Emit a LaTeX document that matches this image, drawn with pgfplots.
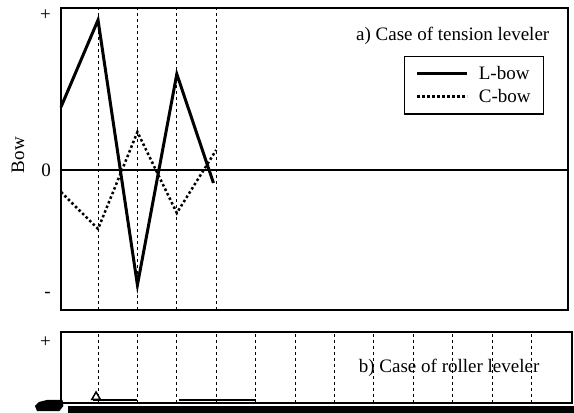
\documentclass[border=0pt]{standalone}
\usepackage{pgfplots}
\pgfplotsset{compat=1.18}
\usepackage{fontspec}
\setmainfont{Liberation Serif}
\begin{document}
\begin{tikzpicture}[x=1pt,y=1pt]
\begin{axis}[
  at={(61pt,103pt)}, anchor=south west, scale only axis,
  width=507pt, height=302pt,
  xmin=0.06, xmax=12.93, ymin=-1.40, ymax=1.62,
  xtick={1,2,3,4}, xticklabels={}, xmajorgrids,
  major tick length=0pt,
  grid style={black, line width=0.7pt, dash pattern=on 3pt off 3pt},
  ytick={-1.25,0,1.55}, yticklabels={-,0,+},
  axis line style={line width=1.3pt},
  font=\fontsize{19}{22}\selectfont,
  yticklabel style={inner sep=0pt, xshift=-10pt},
  clip=false,
  legend cell align=left,
  legend style={at={(0.953,0.841)}, anchor=north east, draw=black, line width=1.2pt,
    inner xsep=11pt, inner ysep=8pt, row sep=4pt,
    font=\fontsize{19}{22}\selectfont,
    nodes={inner sep=2pt},
    /tikz/every odd column/.append style={column sep=8pt}},
  legend image code/.code={\draw[#1] (0pt,0pt) -- (50pt,0pt);},
]
\addplot[black, line width=3pt, line join=miter] coordinates {
(0.06,0.63) (1,1.50) (2,-1.15) (3,0.96) (3.93,-0.13)};
\addlegendentry{L-bow}
\addplot[black, line width=2.5pt, dash pattern=on 2.5pt off 2.5pt] coordinates {
(0.06,-0.22) (1,-0.59) (2,0.38) (3,-0.43) (4.0,0.20)};
\addlegendentry{C-bow}
\addplot[black, line width=1.2pt, forget plot] coordinates {(0.06,0) (12.93,0)};
\node[rotate=90] at (rel axis cs:-0.0848,0.513) {Bow};
\node[anchor=east] at (rel axis cs:0.970,0.907) {a) Case of tension leveler};
\end{axis}
\begin{axis}[
  at={(61pt,10pt)}, anchor=south west, scale only axis,
  width=511pt, height=71pt,
  xmin=0.06, xmax=13.03, ymin=-0.02, ymax=0.69,
  xtick={1,2,3,4,5,6,7,8,9,10,11,12}, xticklabels={}, xmajorgrids,
  major tick length=0pt,
  grid style={black, line width=0.7pt, dash pattern=on 3pt off 3pt},
  ytick={0.59}, yticklabels={+},
  axis line style={line width=1.3pt},
  font=\fontsize{19}{22}\selectfont,
  yticklabel style={inner sep=0pt, xshift=-10pt},
  clip=false,
]
\addplot[black, line width=2.2pt] coordinates {(0.86,0.01) (2.0,0.01)};
\addplot[black, line width=2.5pt] coordinates {(3.05,0.01) (5.0,0.01)};
\addplot[black, line width=1.5pt, only marks, mark=triangle, mark size=5pt] coordinates {(0.95,0.04)};
\addplot[fill=black, draw=none] coordinates {(0.24,-0.05) (13.07,-0.05) (13.07,-0.12) (0.24,-0.12)} -- cycle;
\addplot[fill=black, draw=none] coordinates {(-0.5,-0.01) (-0.3,0.01) (0.1,0.01) (0.12,-0.05) (0.02,-0.10) (-0.55,-0.10) (-0.6,-0.05)} -- cycle;
\node[anchor=east] at (rel axis cs:0.943,0.493) {b) Case of roller leveler};
\end{axis}
\pgfresetboundingbox
\path[use as bounding box] (0pt,0pt) rectangle (574pt,413pt);
\end{tikzpicture}
\end{document}
